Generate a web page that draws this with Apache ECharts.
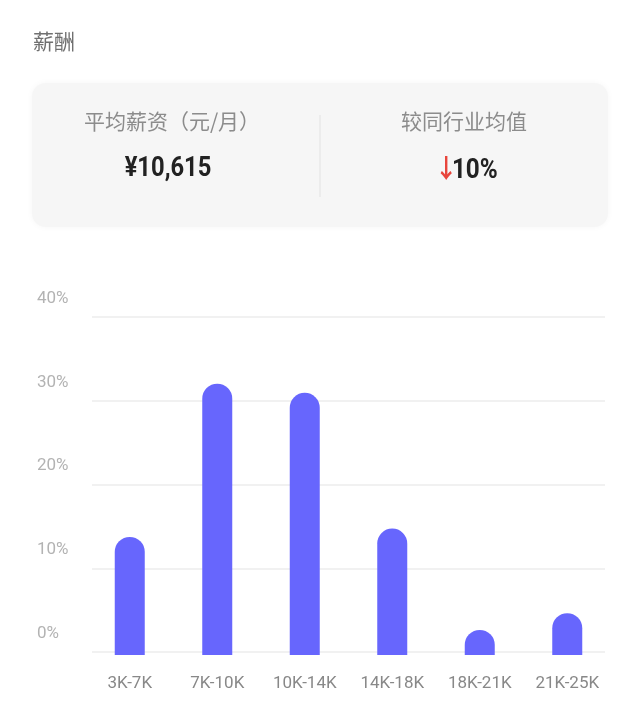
<!DOCTYPE html>
<html>
<head>
<meta charset="utf-8">
<script src="https://cdn.jsdelivr.net/npm/echarts@6/dist/echarts.min.js"></script>
<style>
html,body{margin:0;padding:0;background:#fff;}
#main{width:641px;height:705px;}
</style>
</head>
<body>
<div id="main"></div>
<script>
// ---- data ----
const categories = ['3K-7K', '7K-10K', '10K-14K', '14K-18K', '18K-21K', '21K-25K'];
const shares = [14.1, 32.4, 31.3, 15.1, 3.0, 5.0];   // percent of postings
const yTicks = [0, 10, 20, 30, 40];
const sectionTitle = '薪酬';
const avgLabel = '平均薪资（元/月）';
const avgValue = '¥10,615';
const compareLabel = '较同行业均值';
const compareArrow = '↓';
const compareValue = '10%';

const CJK = '"Noto Sans CJK SC", "Noto Sans", sans-serif';
const NUM = 'Roboto, "Noto Sans CJK SC", sans-serif';

const chart = echarts.init(document.getElementById('main'), null, {renderer: 'canvas'});
chart.setOption({
  backgroundColor: '#ffffff',
  animation: false,
  grid: [
    {left: 92, right: 36, top: 317, bottom: 53},
    {left: 86, right: 30, top: 320, bottom: 50}
  ],
  xAxis: [
    {gridIndex: 0, type: 'category', data: categories, show: false},
    {
      gridIndex: 1, type: 'category', data: categories,
      axisLine: {show: false}, axisTick: {show: false},
      axisLabel: {color: '#888888', fontSize: 17, fontFamily: NUM, margin: 20, interval: 0}
    }
  ],
  yAxis: [
    {
      gridIndex: 0, type: 'value', min: yTicks[0], max: yTicks[yTicks.length - 1], interval: 10,
      axisLine: {show: false}, axisTick: {show: false},
      splitLine: {lineStyle: {color: '#ececec', width: 1.5}},
      axisLabel: {
        formatter: '{value}%', color: '#b3b3b3', fontSize: 17, fontFamily: NUM,
        align: 'left', margin: 55, verticalAlign: 'bottom', padding: [0, 0, 10, 0]
      }
    },
    {gridIndex: 1, type: 'value', min: yTicks[0], max: yTicks[yTicks.length - 1], show: false}
  ],
  series: [{
    type: 'bar',
    xAxisIndex: 1, yAxisIndex: 1,
    data: shares,
    barWidth: 30,
    itemStyle: {color: '#6766fd', borderRadius: [15, 15, 0, 0]}
  }],
  graphic: [
    {type: 'text', left: 33, top: 31, style: {text: sectionTitle, fill: '#707070', font: '21px ' + CJK}},
    {type: 'rect', shape: {x: 32, y: 83, width: 576, height: 144, r: 14},
     style: {fill: '#f6f6f6', shadowBlur: 6, shadowColor: 'rgba(0,0,0,0.04)'}},
    {type: 'line', shape: {x1: 320, y1: 115, x2: 320, y2: 197}, style: {stroke: '#e2e2e2', lineWidth: 1}},
    {type: 'text', x: 172, y: 121, style: {text: avgLabel, fill: '#8c8c8c', font: '21px ' + CJK, align: 'center', verticalAlign: 'middle'}},
    {type: 'text', x: 168, y: 169, scaleX: 0.88,
     style: {text: avgValue, fill: '#222222', font: 'bold 27px ' + NUM, align: 'center', verticalAlign: 'middle'}},
    {type: 'text', x: 464, y: 121, style: {text: compareLabel, fill: '#8c8c8c', font: '21px ' + CJK, align: 'center', verticalAlign: 'middle'}},
    {type: 'text', x: 469, y: 171, scaleX: 0.9, style: {
      text: '{a|' + compareArrow + '}{b|' + compareValue + '}', align: 'center', verticalAlign: 'middle',
      rich: {
        a: {fill: '#e8453c', fontSize: 26, fontWeight: 'bold', fontFamily: NUM, width: 13},
        b: {fill: '#222222', fontSize: 27, fontWeight: 'bold', fontFamily: NUM}
      }
    }}
  ]
});
</script>
</body>
</html>
